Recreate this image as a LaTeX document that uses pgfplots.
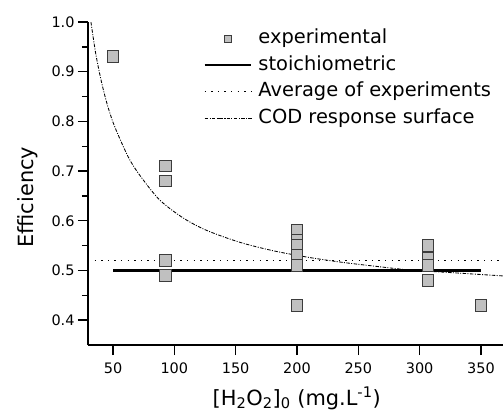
\documentclass[border=0pt]{standalone}
\usepackage{pgfplots}
\pgfplotsset{compat=1.18}
\usepackage{fontspec}
\setmainfont{DejaVu Sans}

\definecolor{markfill}{RGB}{192,192,192}
\definecolor{markdraw}{RGB}{60,60,60}

\begin{document}
\begin{tikzpicture}
\begin{axis}[
  scale only axis,
  width=415bp, height=323bp,
  xmin=29.6, xmax=368,
  ymin=0.35, ymax=1.0,
  axis x line*=bottom,
  axis y line*=left,
  axis line style={line width=1.6bp},
  every tick/.style={line width=1.4bp, black},
  tick align=outside,
  major tick length=10bp,
  minor tick length=6bp,
  xtick={50,100,150,200,250,300,350},
  ytick={0.4,0.5,0.6,0.7,0.8,0.9,1.0},
  minor ytick={0.45,0.55,0.65,0.75,0.85,0.95},
  /pgf/number format/assume math mode=true,
  tick label style={font=\fontsize{14.5}{16}\selectfont},
  xticklabel style={yshift=-4bp},
  yticklabel style={/pgf/number format/.cd, fixed, fixed zerofill, precision=1},
  xlabel={[H\textsubscript{2}O\textsubscript{2}]\textsubscript{0} (mg.L\textsuperscript{-1})},
  ylabel={Efficiency},
  label style={font=\fontsize{21}{24}\selectfont},
  xlabel style={at={(axis description cs:0.503,-0.1858)}, anchor=base},
  ylabel style={at={(axis description cs:-0.1325,0.458)}, anchor=base},
  legend cell align=left,
  legend image code/.code={\draw[mark repeat=2,mark phase=2,#1] plot coordinates {(0bp,0bp) (23.3bp,0bp) (46.7bp,0bp)};},
  legend style={draw=none, fill=none, inner sep=0pt,
    at={(axis description cs:0.278,0.980)}, anchor=north west,
    font=\fontsize{19.5}{22}\selectfont,
    row sep=6.6bp, column sep=6bp,
    nodes={inner sep=0pt, text height=15bp, text depth=5bp}},
]

% measured efficiencies
\addplot[only marks, mark=square*, mark size=5.8bp,
  mark options={fill=markfill, draw=markdraw, line width=1bp}, forget plot]
  coordinates {
  (50,0.93)
  (93,0.71) (93,0.68) (93,0.52) (93,0.49)
  (200,0.58) (200,0.56) (200,0.55) (200,0.53) (200,0.51) (200,0.43)
  (307,0.55) (307,0.525) (307,0.51) (307,0.48)
  (350,0.43)
};
\addlegendimage{only marks, mark=square*, mark size=3.3bp,
  mark options={fill=markfill, draw=markdraw, line width=0.9bp}}
\addlegendentry{experimental}

% stoichiometric efficiency
\addplot[black, line width=2.2bp] coordinates {(50,0.5) (350,0.5)};
\addlegendentry{stoichiometric}

% mean of all experiments
\addplot[black, line width=0.9bp, dash pattern=on 1.4bp off 5.2bp]
  coordinates {(29.6,0.52) (368,0.52)};
\addlegendentry{Average of experiments}

% response surface prediction
\addplot[black, line width=0.85bp, smooth,
  dash pattern=on 3.5bp off 1.4bp on 1bp off 1.4bp]
  coordinates {
  (32,1.000) (36,0.935) (40.8,0.877) (46,0.828) (51.6,0.788)
  (62.5,0.728) (72,0.691) (88,0.642) (107,0.606) (126,0.581)
  (153,0.557) (180,0.540) (208,0.527) (235,0.517) (262,0.509)
  (292,0.501) (330,0.495) (368,0.489)
};
\addlegendentry{COD response surface}

\end{axis}
\pgfresetboundingbox
\path (current axis.south west) ++(-88bp,-66bp) rectangle ++(504bp,411bp);
\end{tikzpicture}
\end{document}
